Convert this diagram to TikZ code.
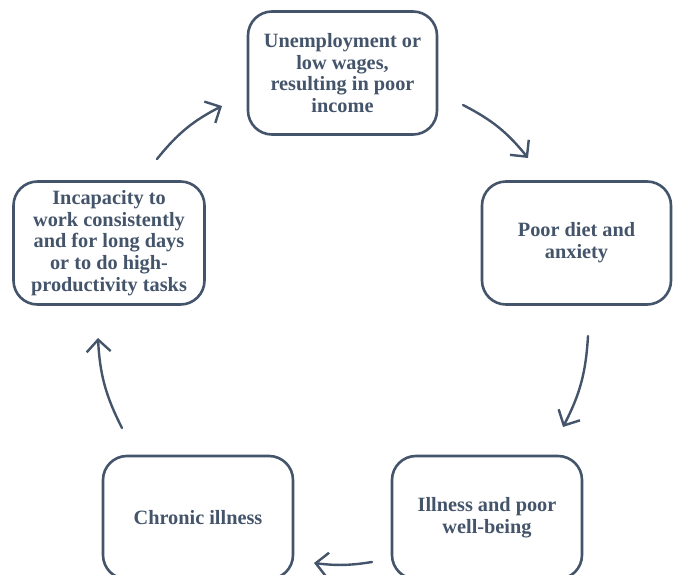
\documentclass[tikz,border=0pt]{standalone}
\usepackage{fontspec}
\setmainfont{Liberation Serif}[BoldFont={Liberation Serif Bold}]
\newfontfamily\boxfont{Liberation Serif Bold}
\usetikzlibrary{arrows.meta}
\definecolor{slate}{HTML}{44546A}
\tikzset{
  cyclebox/.style={draw=slate, line width=2.6pt, rounded corners=24pt,
    minimum width=#1, minimum height=123pt, align=center, text=slate,
    font=\boxfont\fontsize{20.3pt}{21.8pt}\selectfont, inner sep=0pt},
  cyclebox/.default=190pt,
  flow/.style={draw=slate, line width=2.4pt, line cap=round,
    -{Straight Barb[length=12pt,width=24pt,line width=2.4pt]}}
}
\begin{document}
\begin{tikzpicture}[x=1pt,y=-1pt]
\useasboundingbox[fill=white] (0,0) rectangle (678,575);
\node[cyclebox=189pt] (top) at (342.5,73) {Unemployment or\\low wages,\\resulting in poor\\income};
\node[cyclebox=189pt] (right) at (576.5,243) {Poor diet and\\anxiety};
\node[cyclebox=191pt] (left) at (109,243) {Incapacity to\\work consistently\\and for long days\\or to do high-\\productivity tasks};
\node[cyclebox] (bright) at (487,517.5) {Illness and poor\\well-being};
\node[cyclebox] (bleft) at (198,517.5) {Chronic illness};
\coordinate (a1s) at (157,159);
\coordinate (a1e) at (222,106);
\coordinate (a2s) at (463,105);
\coordinate (a2e) at (528,158);
\coordinate (a3s) at (588,336);
\coordinate (a3e) at (563,427);
\coordinate (a4s) at (372,562);
\coordinate (a4e) at (314,563);
\coordinate (a5s) at (122,428);
\coordinate (a5e) at (98,338);
\draw[flow] (a1s) to[bend left=12] (a1e);
\draw[flow] (a2s) to[bend left=12] (a2e);
\draw[flow] (a3s) to[bend left=12] (a3e);
\draw[flow] (a4s) to[bend left=8] (a4e);
\draw[flow] (a5s) to[bend left=12] (a5e);
\end{tikzpicture}
\end{document}
